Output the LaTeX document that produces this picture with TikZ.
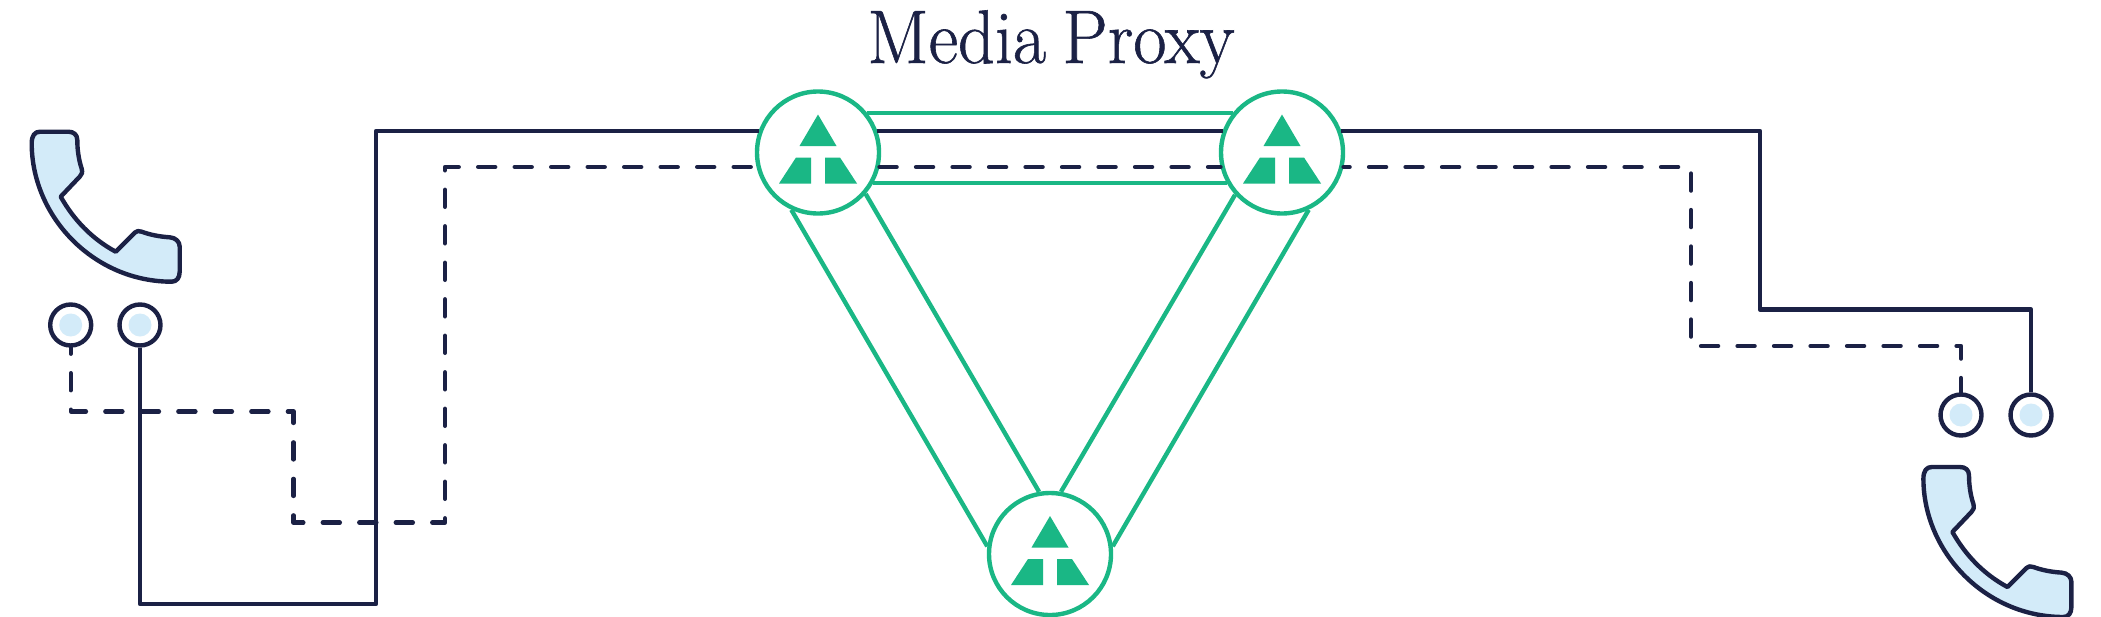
\documentclass[tikz,border=0pt]{standalone}
\usepackage{fontspec}
\usepackage{tikz}
\newfontfamily\titlefont[FakeBold=0.8,WordSpace=0.75]{Latin Modern Roman}
\definecolor{navy}{HTML}{1B2145}
\definecolor{proxygreen}{HTML}{1AB785}
\definecolor{paleblue}{HTML}{D3EBF9}
\tikzset{
  wire/.style={navy,line width=4.4pt,line join=round},
  wiredash/.style={wire,line cap=round,dash pattern=on 17pt off 19.5pt},
  link/.style={proxygreen,line width=4.4pt},
  proxy/.style={circle,draw=proxygreen,line width=4.4pt,fill=white,minimum size=122pt,inner sep=0pt},
  port/.style={circle,draw=navy,line width=4.4pt,fill=white,minimum size=41pt,inner sep=0pt,
    path picture={\fill[paleblue] (path picture bounding box.center) circle (11.5);}},
  phone/.pic={
    \draw[navy,fill=paleblue,line width=4.4pt,line join=round]
      (8.3,0) -- (36.6,0) .. controls (42,0) and (45.6,3) .. (45.6,8.3)
      .. controls (45.6,18) and (47,28) .. (50,37) .. controls (51,41) and (50,43) .. (48,45)
      -- (29,65) .. controls (42,88) and (60,107) .. (84,120)
      -- (103,101) .. controls (105,99) and (107,99) .. (110,100)
      .. controls (118,103) and (128,105) .. (138,105.6)
      .. controls (144,106) and (148,110) .. (148,115) -- (148,140)
      .. controls (148,146) and (145,150) .. (140,150)
      .. controls (62,150) and (0,85) .. (0,11.6)
      .. controls (0,4) and (3,0) .. (8.3,0) -- cycle;
  }
}

\begin{document}
\begin{tikzpicture}[x=1pt,y=-1pt]
  \useasboundingbox (0,0) rectangle (2101,616);

  \node[text=navy,font=\titlefont\fontsize{76}{76}\selectfont,anchor=base,xscale=0.95] (title) at (1051,63) {Media Proxy};

  \node[proxy] (M1) at (818,152.5) {};
  \node[proxy] (M2) at (1282,152.5) {};
  \node[proxy] (M3) at (1050,554) {};

  \foreach \i in {1,2,3}{
    \fill[proxygreen] (M\i.center) ++(0,-38) -- ++(18.5,31.5) -- ++(-37,0) -- cycle;
    \fill[proxygreen] (M\i.center) ++(-7,5) -- ++(0,26) -- ++(-32,0) -- ++(17,-26) -- cycle;
    \fill[proxygreen] (M\i.center) ++(7,5) -- ++(0,26) -- ++(32,0) -- ++(-17,-26) -- cycle;
  }

  \draw[link] (M1.39) -- (M2.141);
  \draw[link] (M1.-29) -- (M2.-151);
  \draw[link] (M1.245) -- (M3.173);
  \draw[link] (M1.-41) -- (M3.100);
  \draw[link] (M2.-65) -- (M3.7);
  \draw[link] (M2.-138) -- (M3.80);

  \pic at (31.7,131.7) {phone};
  \pic at (1923.4,467) {phone};

  \node[port] (P1) at (70.7,325) {};
  \node[port] (P2) at (140,325) {};
  \node[port] (P3) at (1961,415) {};
  \node[port] (P4) at (2031,415) {};

  \coordinate (solid) at (376,131);
  \coordinate (dash) at (445,167);

  \draw[wire] (P2) -- (140,604) -- (376,604) -- (solid) -- (solid -| M1.159.4);
  \draw[wire] (solid -| M1.20.6) -- (solid -| M2.159.4);
  \draw[wire] (solid -| M2.20.6) -- (1760,131) -- (1760,309.6) -- (2031,309.6) -- (P4);

  \draw[wiredash,dash phase=11pt] (P1) -- (70.7,411.5) -- (293.5,411.5) -- (293.5,522.6) -- (445,522.6) -- (dash) -- (dash -| M1.193.7);
  \draw[wiredash] (dash -| M1.-13.7) -- (dash -| M2.193.7);
  \draw[wiredash,dash phase=11pt] (dash -| M2.-13.7) -- (1691,167) -- (1691,346) -- (1961,346) -- (P3);
\end{tikzpicture}
\end{document}
